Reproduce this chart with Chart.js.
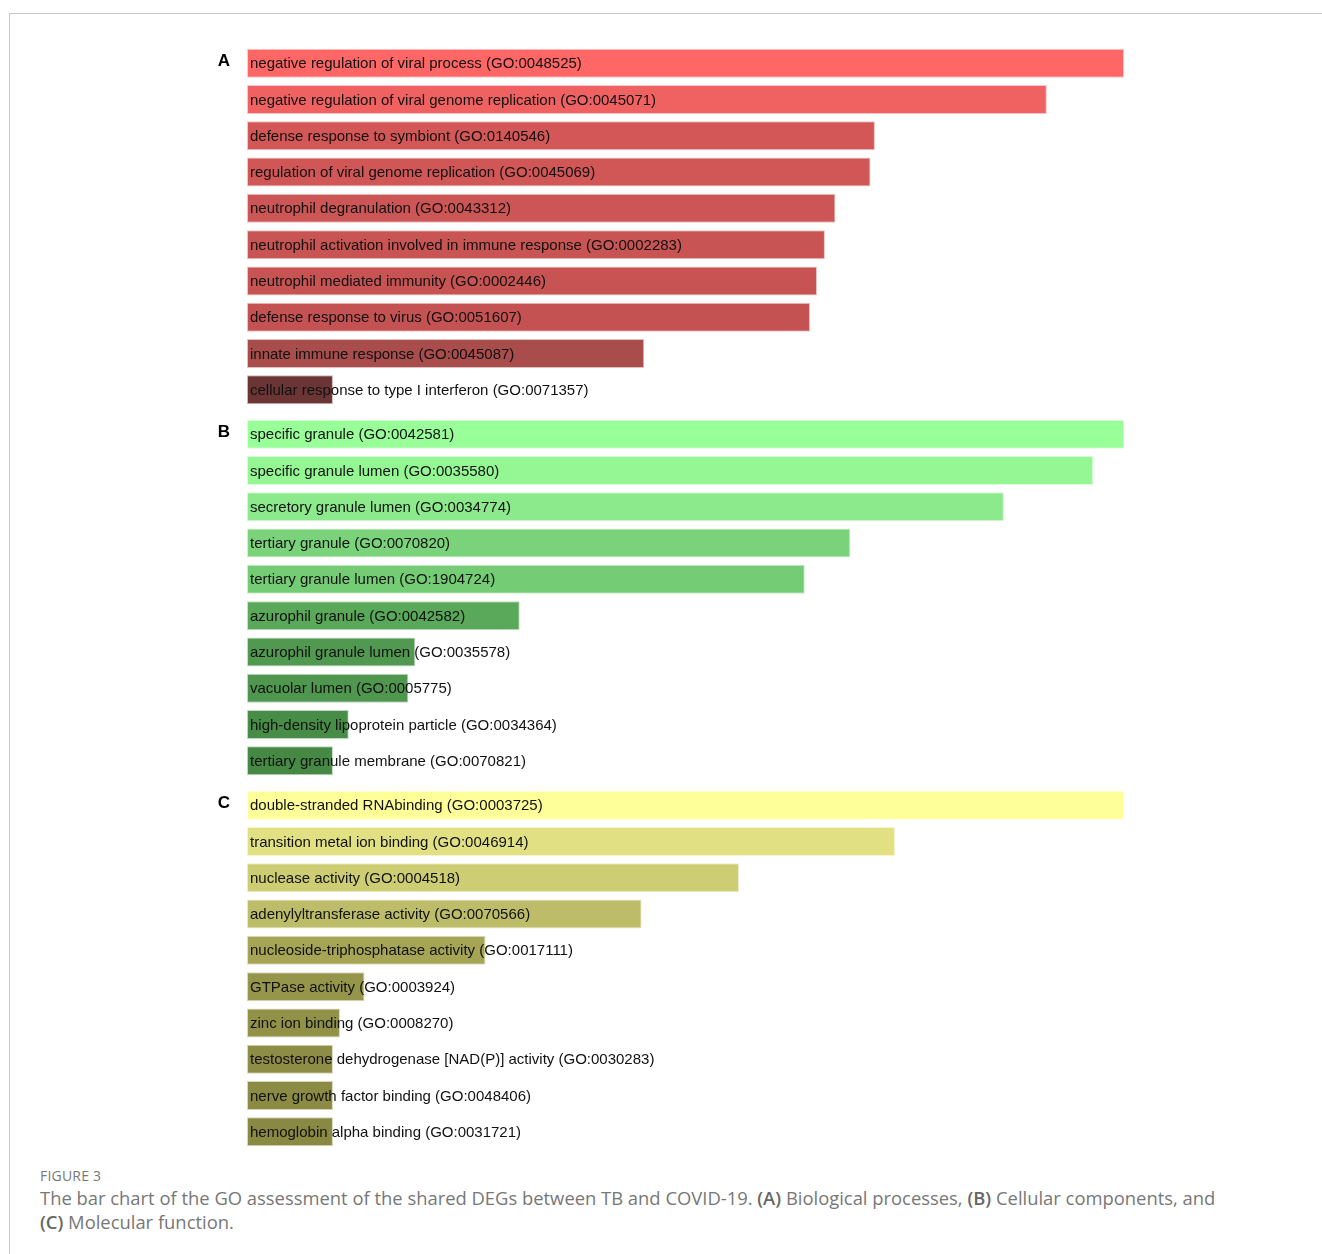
<!DOCTYPE html>
<html>
<head>
<meta charset="utf-8">
<script src="https://cdn.jsdelivr.net/npm/chart.js@4"></script>
<style>
  body { margin: 0; background: #fff; }
  #frame { position: absolute; left: 9px; top: 13px; width: 1313px; height: 1241px;
           border-top: 1px solid #c8c8c8; border-left: 1px solid #c8c8c8; }
  canvas { position: absolute; }
  .figno { position: absolute; left: 40px; top: 1166px; font: 14px "Open Sans", sans-serif; color: #777; letter-spacing: 0.2px; }
  .cap { position: absolute; left: 40px; top: 1186px; width: 1200px; font: 18.4px/24px "Open Sans", sans-serif; color: #777; }
  .cap b { color: #666; font-weight: 600; }
</style>
</head>
<body>
<div id="frame"></div>
<canvas id="chartA" width="940" height="363" style="left:200px;top:45px"></canvas>
<canvas id="chartB" width="940" height="363" style="left:200px;top:416px"></canvas>
<canvas id="chartC" width="940" height="363" style="left:200px;top:787px"></canvas>
<div class="figno">FIGURE 3</div>
<div class="cap">The bar chart of the GO assessment of the shared DEGs between TB and COVID-19. <b>(A)</b> Biological processes, <b>(B)</b> Cellular components, and <b>(C)</b> Molecular function.</div>
<script>
// panel A - biological process
const termsA = [
  'negative regulation of viral process (GO:0048525)',
  'negative regulation of viral genome replication (GO:0045071)',
  'defense response to symbiont (GO:0140546)',
  'regulation of viral genome replication (GO:0045069)',
  'neutrophil degranulation (GO:0043312)',
  'neutrophil activation involved in immune response (GO:0002283)',
  'neutrophil mediated immunity (GO:0002446)',
  'defense response to virus (GO:0051607)',
  'innate immune response (GO:0045087)',
  'cellular response to type I interferon (GO:0071357)'
];
const scoresA = [100, 91.2, 71.6, 71.1, 67.1, 65.9, 65.0, 64.2, 45.3, 9.8];
const colorsA = ['#ff6666', '#f06262', '#d35757', '#d15656', '#cc5555', '#c95454', '#c75353', '#c55252', '#a84c4c', '#6b3535'];

// panel B - cellular component
const termsB = [
  'specific granule (GO:0042581)',
  'specific granule lumen (GO:0035580)',
  'secretory granule lumen (GO:0034774)',
  'tertiary granule (GO:0070820)',
  'tertiary granule lumen (GO:1904724)',
  'azurophil granule (GO:0042582)',
  'azurophil granule lumen (GO:0035578)',
  'vacuolar lumen (GO:0005775)',
  'high-density lipoprotein particle (GO:0034364)',
  'tertiary granule membrane (GO:0070821)'
];
const scoresB = [100, 96.5, 86.3, 68.8, 63.6, 31.1, 19.2, 18.4, 11.6, 9.8];
const colorsB = ['#99ff99', '#94f794', '#8ce98c', '#7ad37a', '#74cc74', '#5aa85a', '#519951', '#4f964f', '#478c47', '#458945'];

// panel C - molecular function
const termsC = [
  'double-stranded RNAbinding (GO:0003725)',
  'transition metal ion binding (GO:0046914)',
  'nuclease activity (GO:0004518)',
  'adenylyltransferase activity (GO:0070566)',
  'nucleoside-triphosphatase activity (GO:0017111)',
  'GTPase activity (GO:0003924)',
  'zinc ion binding (GO:0008270)',
  'testosterone dehydrogenase [NAD(P)] activity (GO:0030283)',
  'nerve growth factor binding (GO:0048406)',
  'hemoglobin alpha binding (GO:0031721)'
];
const scoresC = [100, 73.9, 56.1, 45.0, 27.2, 13.4, 10.6, 9.8, 9.8, 9.8];
const colorsC = ['#ffff99', '#e1e184', '#cdcd74', '#bdbd69', '#a5a555', '#96964b', '#919148', '#8d8d45', '#8b8b44', '#898943'];

const panelLetters = ['A', 'B', 'C'];

function edge(hex) {
  const r = parseInt(hex.slice(1, 3), 16), g = parseInt(hex.slice(3, 5), 16), b = parseInt(hex.slice(5, 7), 16);
  return 'rgba(' + r + ',' + g + ',' + b + ',0.35)';
}

// writes the term inside each bar, plus the panel letter
const termLabels = {
  id: 'termLabels',
  afterDatasetsDraw(chart, args, opts) {
    const c = chart.ctx;
    const meta = chart.getDatasetMeta(0);
    c.save();
    c.fillStyle = '#111';
    c.textBaseline = 'middle';
    c.font = '15px "Liberation Sans", Arial, sans-serif';
    meta.data.forEach((bar, i) => {
      c.fillText(chart.data.labels[i], bar.base + 3, bar.y + 1);
    });
    c.font = 'bold 17px "Liberation Sans", Arial, sans-serif';
    c.textAlign = 'center';
    c.fillStyle = '#000';
    c.fillText(opts.letter, 24, meta.data[0].y - 2);
    c.restore();
  }
};

function makeChart(id, letter, terms, scores, colors) {
  return new Chart(document.getElementById(id).getContext('2d'), {
    type: 'bar',
    data: {
      labels: terms,
      datasets: [{
        data: scores,
        backgroundColor: colors,
        borderColor: colors.map(edge),
        borderWidth: 1,
        borderSkipped: false,
        categoryPercentage: 1,
        barPercentage: 0.8
      }]
    },
    options: {
      indexAxis: 'y',
      responsive: false,
      devicePixelRatio: 1,
      animation: false,
      layout: { padding: { left: 47, right: 16, top: 0, bottom: 0 } },
      scales: {
        x: { display: false, min: 0, max: Math.max(...scores) },
        y: { display: false }
      },
      plugins: {
        legend: { display: false },
        tooltip: { enabled: false },
        termLabels: { letter: letter }
      }
    },
    plugins: [termLabels]
  });
}

makeChart('chartA', panelLetters[0], termsA, scoresA, colorsA);
makeChart('chartB', panelLetters[1], termsB, scoresB, colorsB);
makeChart('chartC', panelLetters[2], termsC, scoresC, colorsC);
</script>
</body>
</html>
